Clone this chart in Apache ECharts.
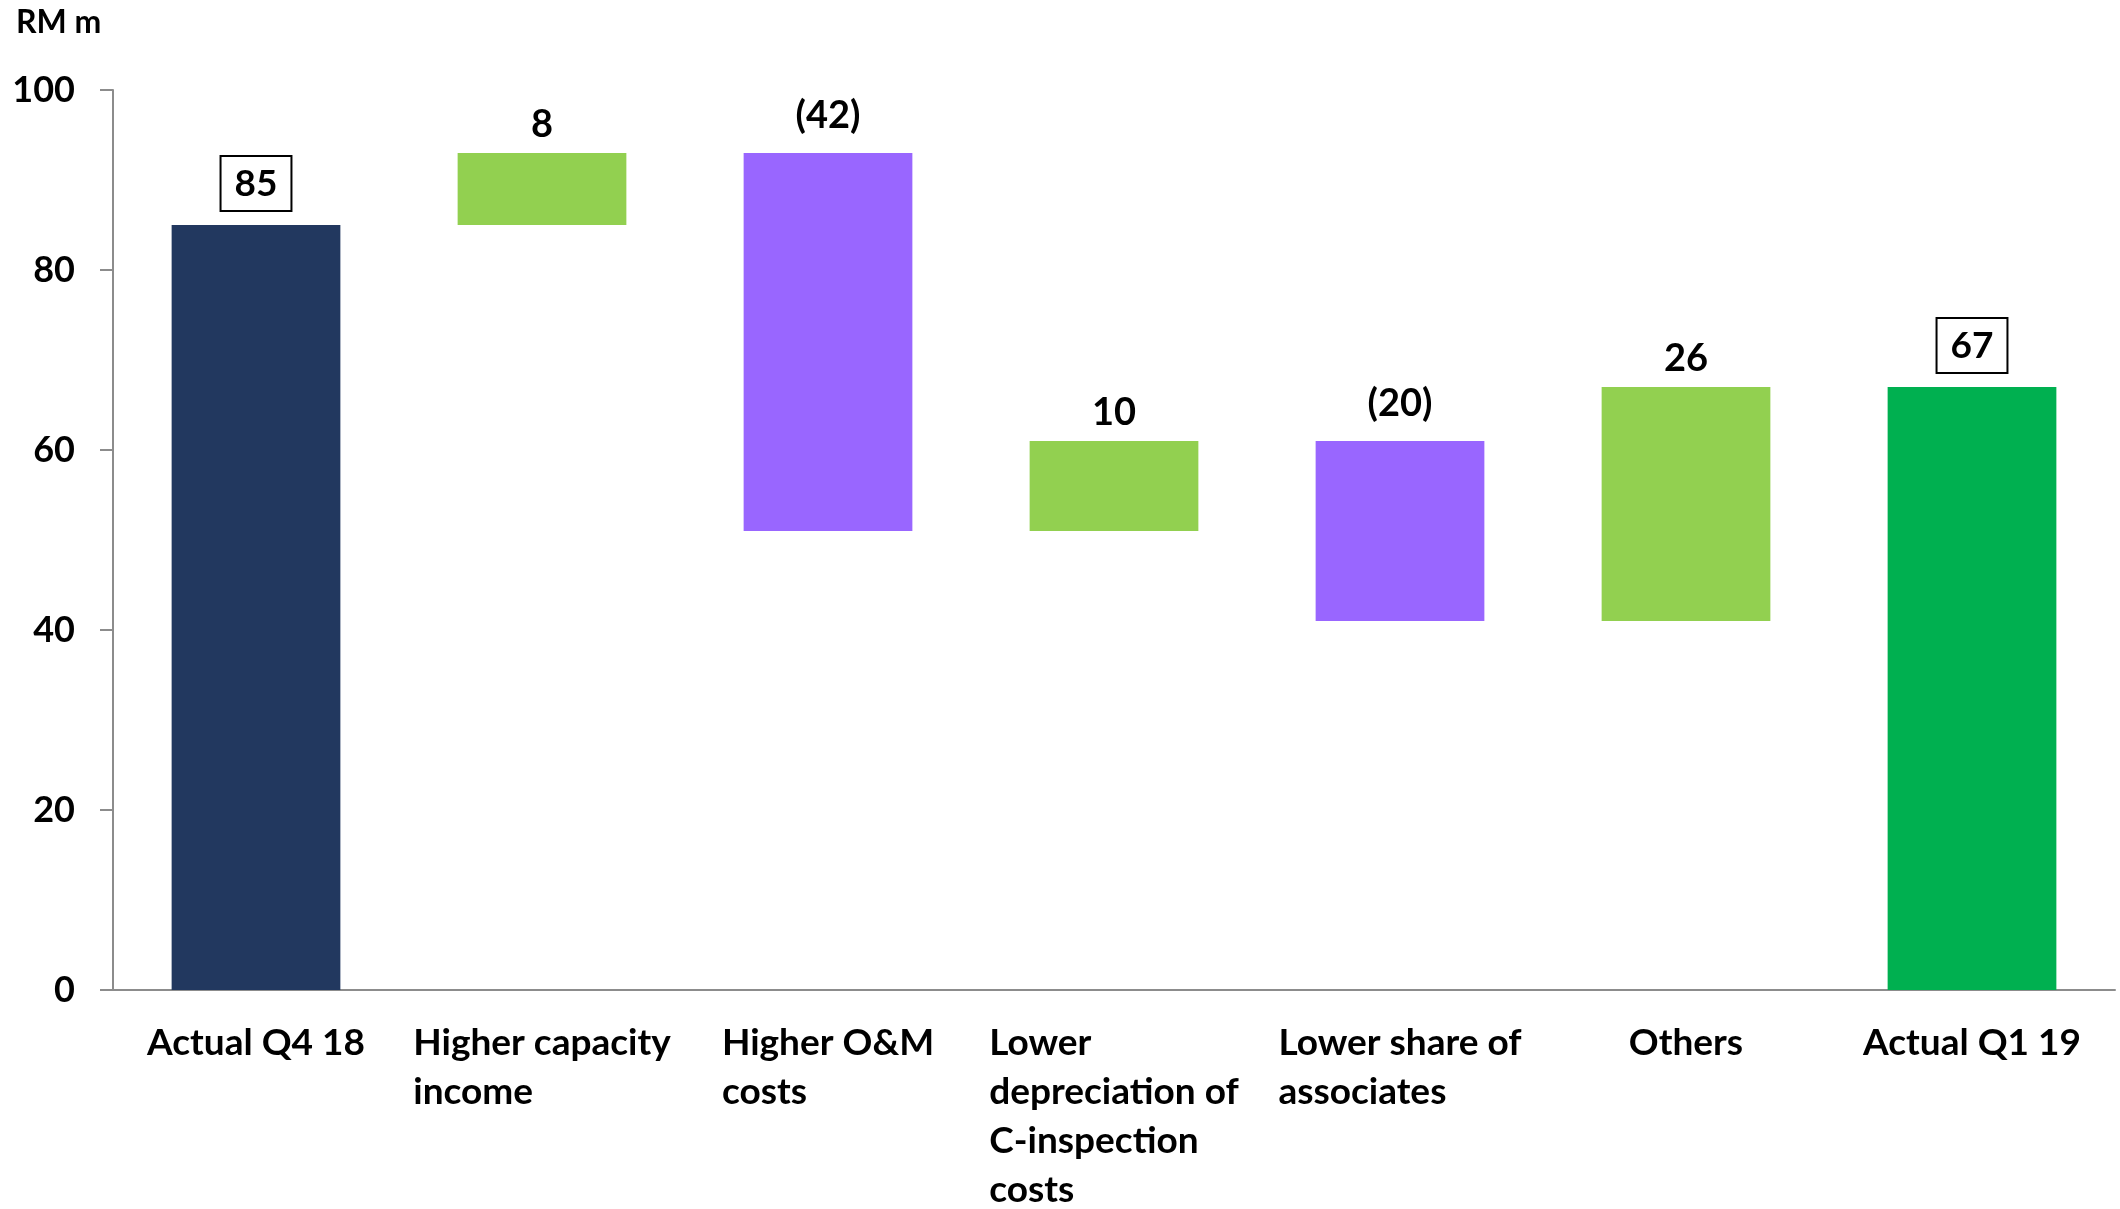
<!DOCTYPE html>
<html>
<head>
<meta charset="utf-8">
<script src="https://cdn.jsdelivr.net/npm/echarts@6/dist/echarts.min.js"></script>
<style>
    html, body { margin: 0; padding: 0; background: #fff; }
    #chart { width: 2120px; height: 1209px; }
</style>
</head>
<body>
<div id="chart"></div>
<script>
// 数据
const categories = [
    "Actual Q4 18",
    "Higher capacity\nincome",
    "Higher O&M\ncosts",
    "Lower\ndepreciation of\nC-inspection\ncosts",
    "Lower share of\nassociates",
    "Others",
    "Actual Q1 19",
];
const startValue = 85;
const changes = [8, -42, 10, -20, 26];
const endValue = 67;
const yTicks = { min: 0, max: 100, interval: 20 };

const colors = {
    total: "#22385f",
    end: "#00b050",
    up: "#92d050",
    down: "#9966ff",
};
const FONT = "Lato";

// 瀑布图：透明底座 + 可见柱
const baseData = [0];
const barData = [{
    value: startValue,
    itemStyle: { color: colors.total },
    label: { distance: 14 },
    total: true,
}];
let running = startValue;
changes.forEach(function (c) {
    const next = running + c;
    baseData.push(Math.min(running, next));
    barData.push({
        value: Math.abs(c),
        itemStyle: { color: c >= 0 ? colors.up : colors.down },
        label: { distance: c >= 0 ? 9 : 18 },
        change: c,
    });
    running = next;
});
baseData.push(0);
barData.push({
    value: endValue,
    itemStyle: { color: colors.end },
    label: { distance: 14 },
    total: true,
});

function labelText(p) {
    const d = barData[p.dataIndex];
    if (d.total) return "{box|" + d.value + "}";
    return d.change < 0 ? "(" + Math.abs(d.change) + ")" : String(d.change);
}

const option = {
    animation: false,
    backgroundColor: "#fff",
    title: {
        text: "RM m",
        left: 11,
        top: 2,
        textStyle: { fontFamily: FONT, fontWeight: "bold", fontSize: 32, color: "#000" },
    },
    grid: { left: 113, right: 5, top: 90, bottom: 217 },
    xAxis: {
        type: "category",
        data: categories,
        axisLine: { lineStyle: { color: "#8c8c8c", width: 2 } },
        axisTick: { show: false },
        axisLabel: {
            interval: 0,
            margin: 29,
            color: "#000",
            formatter: function (v) {
                return v.split("\n").map(function (s) { return "{a|" + s + "}"; }).join("\n");
            },
            rich: {
                a: {
                    align: "left",
                    fontFamily: FONT,
                    fontWeight: "bold",
                    fontSize: 37,
                    lineHeight: 49,
                    color: "#000",
                },
            },
        },
    },
    yAxis: {
        type: "value",
        min: yTicks.min,
        max: yTicks.max,
        interval: yTicks.interval,
        axisLine: { show: true, lineStyle: { color: "#8c8c8c", width: 2 } },
        axisTick: { show: true, length: 13, lineStyle: { color: "#8c8c8c", width: 2 } },
        splitLine: { show: false },
        axisLabel: {
            margin: 38,
            color: "#000",
            fontFamily: FONT,
            fontWeight: "bold",
            fontSize: 36,
        },
    },
    series: [
        {
            type: "bar",
            stack: "w",
            data: baseData,
            itemStyle: { color: "transparent" },
            silent: true,
            barWidth: "59%",
        },
        {
            type: "bar",
            stack: "w",
            data: barData,
            barWidth: "59%",
            label: {
                show: true,
                position: "top",
                formatter: labelText,
                color: "#000",
                fontFamily: FONT,
                fontWeight: "bold",
                fontSize: 38,
                rich: {
                    box: {
                        fontFamily: FONT,
                        fontWeight: "bold",
                        fontSize: 37,
                        color: "#000",
                        borderColor: "#000",
                        borderWidth: 2,
                        padding: [10, 14, 8, 14],
                    },
                },
            },
        },
    ],
};

const chart = echarts.init(document.getElementById("chart"));
chart.setOption(option);
</script>
</body>
</html>
